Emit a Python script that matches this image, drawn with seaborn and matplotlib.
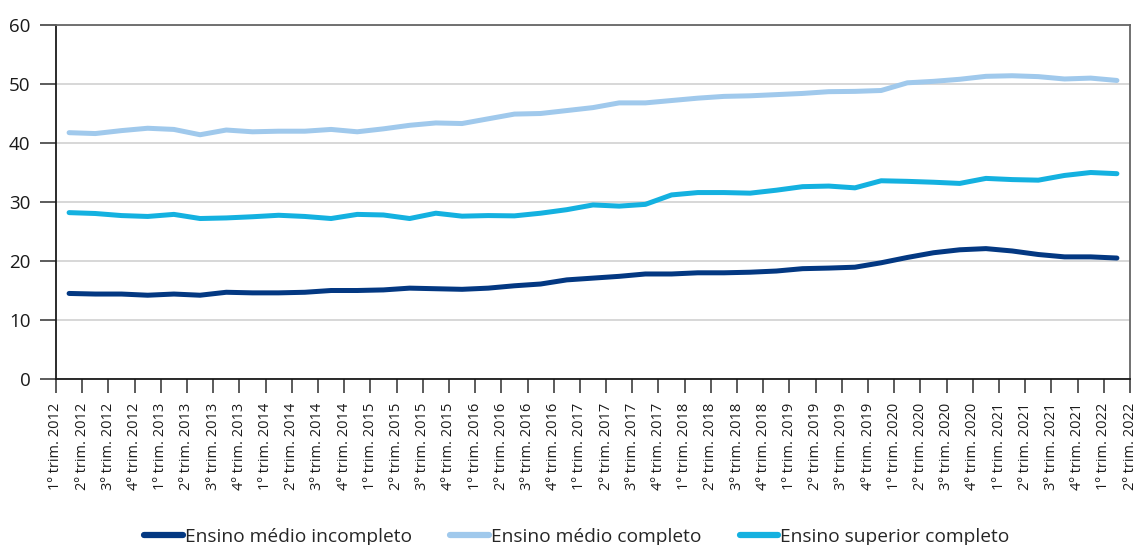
import numpy as np
import pandas as pd
import matplotlib
matplotlib.use("Agg")
import matplotlib.pyplot as plt
import seaborn as sns

# Quarterly series, 1º trim. 2012 to 1º trim. 2022
quarters = [f"{q}º trim. {y}" for y in range(2012, 2022) for q in range(1, 5)] + ["1º trim. 2022"]
tick_labels = quarters + ["2º trim. 2022"]

medio_incompleto = [
    14.5, 14.4, 14.4, 14.2, 14.4, 14.2, 14.7, 14.6, 14.6, 14.7,
    15.0, 15.0, 15.1, 15.4, 15.3, 15.2, 15.4, 15.8, 16.1, 16.8,
    17.1, 17.4, 17.8, 17.8, 18.0, 18.0, 18.1, 18.3, 18.7, 18.8,
    18.95, 19.7, 20.6, 21.4, 21.9, 22.1, 21.7, 21.1, 20.7, 20.7,
    20.5,
]
medio_completo = [
    41.75, 41.6, 42.1, 42.5, 42.3, 41.4, 42.2, 41.9, 42.0, 42.0,
    42.3, 41.9, 42.4, 43.0, 43.4, 43.3, 44.1, 44.9, 45.0, 45.5,
    46.0, 46.8, 46.8, 47.2, 47.6, 47.9, 48.0, 48.2, 48.4, 48.7,
    48.75, 48.9, 50.2, 50.45, 50.8, 51.3, 51.4, 51.25, 50.85, 51.0,
    50.6,
]
superior_completo = [
    28.2, 28.05, 27.7, 27.55, 27.9, 27.2, 27.3, 27.5, 27.75, 27.55,
    27.2, 27.9, 27.8, 27.2, 28.1, 27.6, 27.7, 27.65, 28.1, 28.7,
    29.5, 29.3, 29.6, 31.2, 31.6, 31.6, 31.5, 32.0, 32.6, 32.7,
    32.4, 33.6, 33.5, 33.35, 33.15, 34.0, 33.8, 33.7, 34.5, 35.0,
    34.8,
]

series_names = ["Ensino médio incompleto", "Ensino médio completo", "Ensino superior completo"]
series_colors = ["#033882", "#a0c9ec", "#14b1e0"]

df = pd.DataFrame({
    "pos": np.tile(np.arange(len(quarters)) + 0.5, 3),
    "valor": medio_incompleto + medio_completo + superior_completo,
    "serie": np.repeat(series_names, len(quarters)),
})

sns.set_theme(style="white")
plt.rcParams["font.family"] = ["Open Sans", "DejaVu Sans"]

fig = plt.figure(figsize=(11.36, 5.45), dpi=100)
ax = fig.add_axes([56 / 1136, 1 - 379 / 545, (1130 - 56) / 1136, (379 - 25) / 545])

sns.lineplot(data=df, x="pos", y="valor", hue="serie", hue_order=series_names,
             palette=series_colors, linewidth=3.6, ax=ax, legend=True)

ax.set_xlim(0, len(tick_labels) - 1)
ax.set_ylim(0, 60)
ax.set_yticks(range(0, 61, 10))
ax.set_xticks(range(len(tick_labels)))
ax.set_xticklabels(tick_labels, rotation=90, fontsize=10.5, color="#1a1a1a")
ax.tick_params(axis="y", labelsize=13.5, labelcolor="#1a1a1a", length=11.5, width=1.2,
               color="#404040", direction="out", pad=7, left=True)
ax.tick_params(axis="x", length=10, width=1.2, color="#404040", direction="out",
               pad=7, bottom=True)
ax.set_xlabel("")
ax.set_ylabel("")

ax.yaxis.grid(True, color="#d4d4d4", linewidth=1.3)
ax.set_axisbelow(True)
for side, sp in ax.spines.items():
    sp.set_visible(True)
    sp.set_linewidth(1.3)
    sp.set_color("#1a1a1a" if side in ("left", "bottom") else "#666666")

handles, labels = ax.get_legend_handles_labels()
ax.legend(handles, labels, loc="center", bbox_to_anchor=(0.485, -0.445), ncol=3,
          frameon=False, fontsize=13.8, handlelength=2.0, handletextpad=0.12,
          columnspacing=2.0)
for line in ax.get_legend().get_lines():
    line.set_linewidth(4.5)

fig.savefig("out.png", dpi=100)
